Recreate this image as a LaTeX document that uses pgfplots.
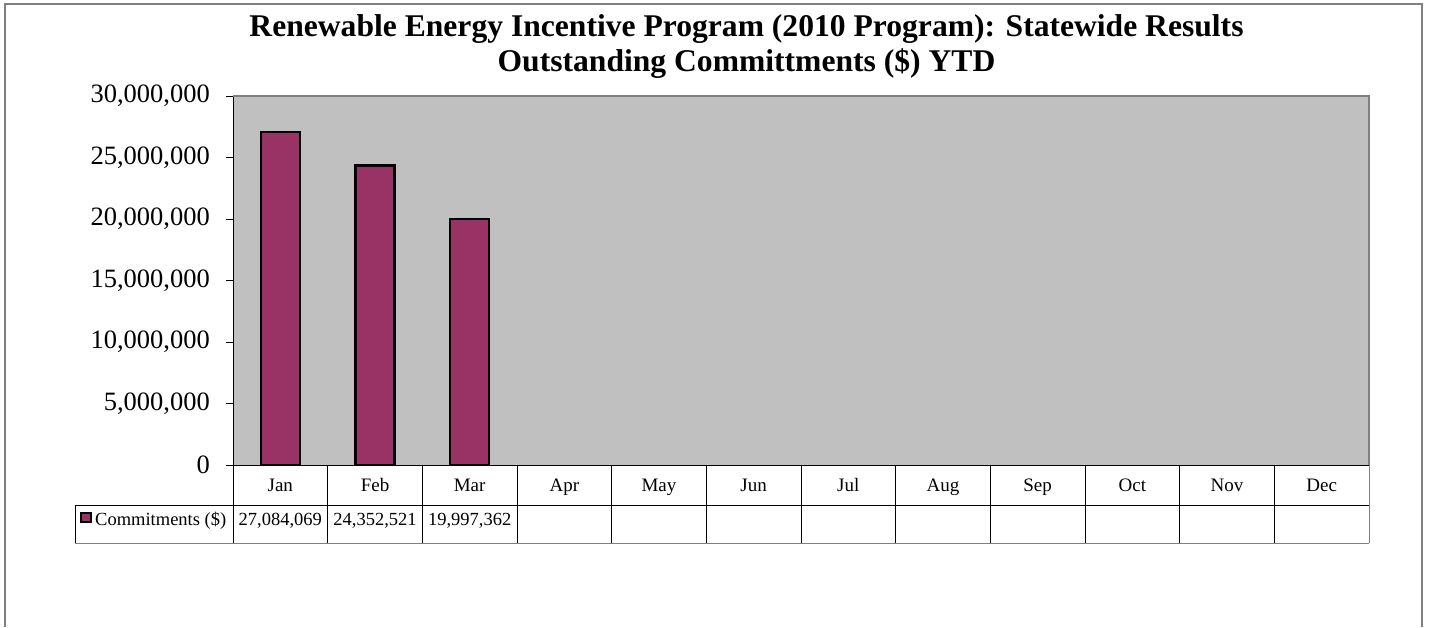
\documentclass[border=0pt]{standalone}
\usepackage{fontspec}
\setmainfont{Liberation Serif}
\usepackage{pgfplots}
\pgfplotsset{compat=1.18}
\definecolor{plotbg}{HTML}{C0C0C0}
\definecolor{barfill}{HTML}{993366}
\definecolor{framegray}{HTML}{808080}

\begin{document}
\begin{tikzpicture}[x=1pt,y=-1pt]
% page and outer chart frame (bottom edge is cut off in the original)
\fill[white] (0,0) rectangle (1429,627);
\draw[framegray, line width=2pt] (5,627) -- (5,4) -- (1422,4) -- (1422,627);

\node[font=\fontsize{31.6}{34}\selectfont\bfseries, anchor=base] at (746.5,37)
  {Renewable Energy Incentive Program (2010 Program): Statewide Results};
\node[font=\fontsize{31.6}{34}\selectfont\bfseries, anchor=base] at (746.5,72)
  {Outstanding Committments (\$) YTD};

\begin{axis}[
    at={(233pt,-465pt)}, anchor=south west,
    scale only axis, width=1136pt, height=369pt,
    xmin=-0.5, xmax=11.5, ymin=0, ymax=30000000,
    axis background/.style={fill=plotbg},
    axis x line*=bottom, axis y line*=left,
    axis line style={black, line width=1pt},
    xtick={0,1,2,3,4,5,6,7,8,9,10,11},
    xticklabels={Jan,Feb,Mar,Apr,May,Jun,Jul,Aug,Sep,Oct,Nov,Dec},
    xtick style={draw=none},
    xticklabel style={font=\fontsize{19}{21}\selectfont, anchor=base, inner sep=0pt, yshift=-19pt},
    ytick={0,5000000,10000000,15000000,20000000,25000000,30000000},
    yticklabels={0,{5,000,000},{10,000,000},{15,000,000},{20,000,000},{25,000,000},{30,000,000}},
    scaled y ticks=false,
    tick align=outside, major tick length=7pt,
    ytick style={black, line width=0.8pt},
    yticklabel style={font=\fontsize{26.5}{30}\selectfont, anchor=east, inner sep=0pt, xshift=-16pt},
    clip=false,
]
\addplot[ybar, bar width=39pt, fill=barfill, draw=black, line width=2.5pt]
  coordinates {(0,27084069) (1,24352521) (2,19997362)};
% values row of the data table
\addplot[draw=none, mark=none, nodes near coords, point meta=explicit symbolic,
  every node near coord/.append style={font=\fontsize{18.5}{21}\selectfont, anchor=base, inner sep=0pt, yshift=-60pt}]
  coordinates {(0,0) [27,084,069] (1,0) [24,352,521] (2,0) [19,997,362]};
\end{axis}

% plot area top/right border
\draw[framegray, line width=2pt] (233,96) -- (1369,96) -- (1369,465);
% data table grid
\foreach \k in {0,...,11} {
  \draw[black, line width=0.8pt] ({233+\k*1136/12},465) -- ({233+\k*1136/12},543);
}
\draw[framegray, line width=1pt] (1369,465) -- (1369,543);
\draw[black, line width=0.8pt] (75,505) -- (1369,505);
\draw[black, line width=0.8pt] (75,505) -- (75,543);
\draw[framegray, line width=1pt] (75,543) -- (1369,543);
% legend key
\draw[fill=barfill, line width=1.2pt] (81,513) rectangle (91,522);
\node[font=\fontsize{18.5}{21}\selectfont, anchor=base west, inner sep=0pt] at (95,525) {Commitments (\$)};
\end{tikzpicture}
\end{document}
